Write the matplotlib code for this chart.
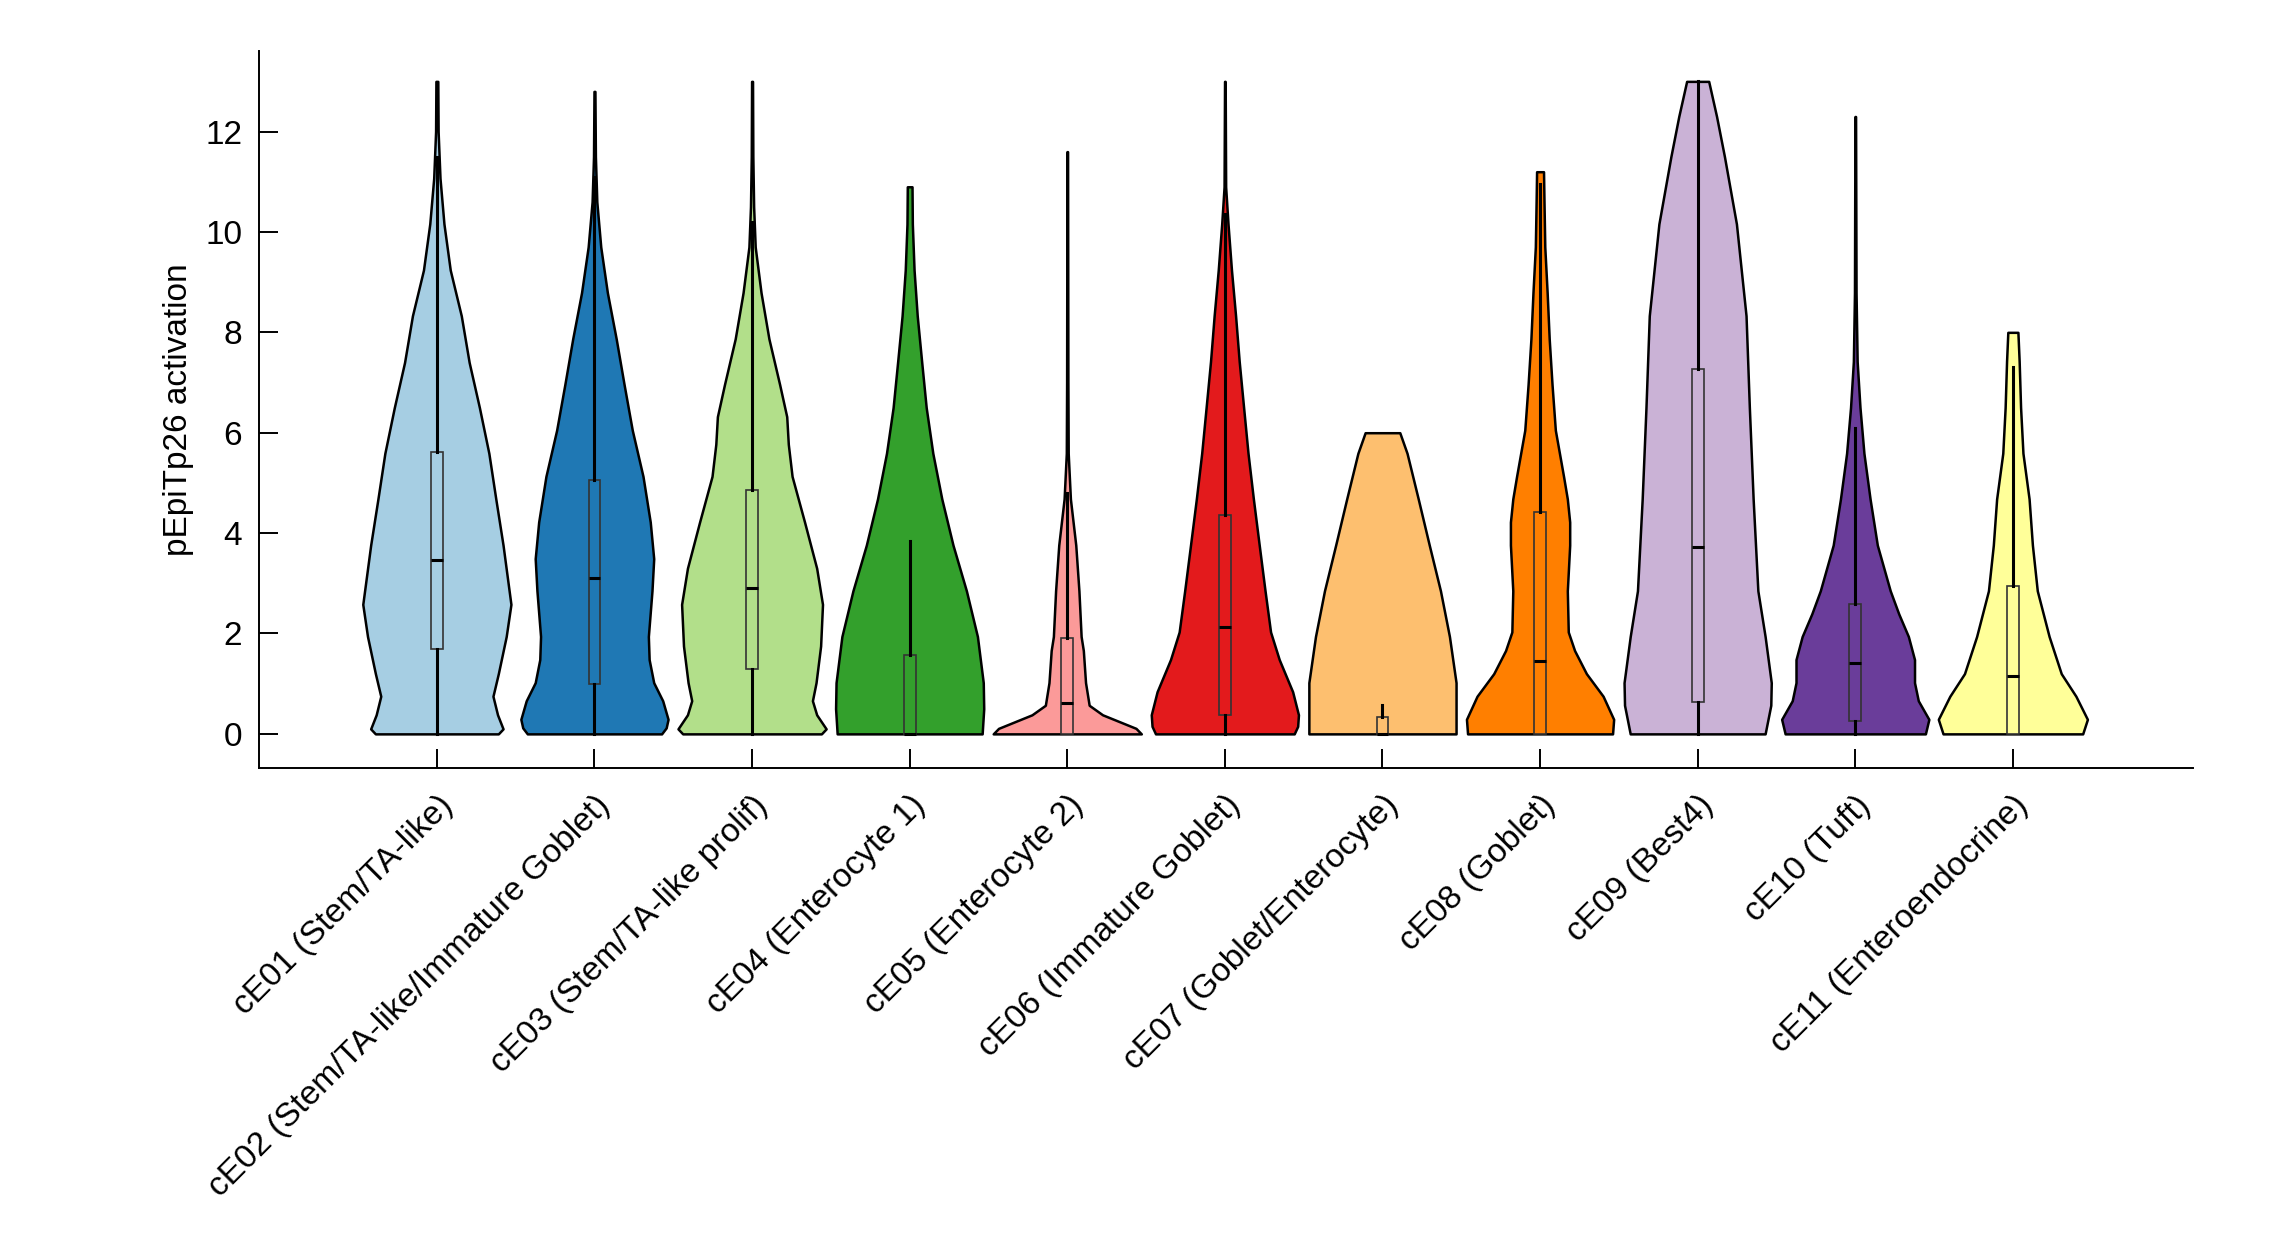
import matplotlib
matplotlib.use("Agg")
import matplotlib.pyplot as plt
import numpy as np

plt.rcParams['font.family'] = ['Liberation Sans', 'DejaVu Sans']

# categories
labels = ['cE01 (Stem/TA-like)', 'cE02 (Stem/TA-like/Immature Goblet)',
          'cE03 (Stem/TA-like prolif)', 'cE04 (Enterocyte 1)', 'cE05 (Enterocyte 2)',
          'cE06 (Immature Goblet)', 'cE07 (Goblet/Enterocyte)', 'cE08 (Goblet)',
          'cE09 (Best4)', 'cE10 (Tuft)', 'cE11 (Enteroendocrine)']

colors = ['#a6cee3', '#1f78b4', '#b2df8a', '#33a02c', '#fb9a99', '#e31a1c',
          '#fdbf6f', '#ff7f00', '#cab2d6', '#6a3d9a', '#ffff99']

# violin outlines: activation levels and half widths
violin_levels = [
    [0, 0.1, 0.38, 0.75, 1.2, 1.94, 2.58, 3.76, 4.68, 5.59, 6.5, 7.4, 8.33, 9.24, 10.16, 11.07, 12.0, 13.0],
    [0, 0.12, 0.29, 0.66, 1.02, 1.48, 1.94, 2.85, 3.49, 4.22, 5.13, 6.05, 6.96, 7.87, 8.79, 9.7, 10.6, 11.5, 12.8],
    [0, 0.1, 0.38, 0.66, 1.02, 1.75, 2.58, 3.3, 4.22, 5.13, 5.77, 6.32, 6.96, 7.87, 8.79, 9.7, 10.5, 11.5, 13.0],
    [0, 0.5, 1.02, 1.94, 2.85, 3.76, 4.68, 5.59, 6.5, 7.42, 8.33, 9.24, 10.16, 10.9],
    [0, 0.11, 0.38, 0.57, 1.02, 1.66, 1.94, 2.85, 3.76, 4.68, 5.59, 7.0, 11.6],
    [0, 0.15, 0.38, 0.84, 1.48, 2.03, 2.85, 3.76, 4.68, 5.59, 6.5, 7.42, 8.33, 9.24, 10.16, 10.9, 13.0],
    [0, 0.5, 1.02, 1.94, 2.85, 3.76, 4.68, 5.59, 6.0],
    [0, 0.29, 0.75, 1.2, 1.66, 2.03, 2.85, 3.76, 4.22, 4.68, 5.13, 6.05, 6.96, 7.87, 8.79, 9.7, 10.6, 11.2],
    [0, 0.57, 1.02, 1.94, 2.85, 4.68, 6.5, 8.33, 10.16, 11.5, 12.3, 13.0],
    [0, 0.29, 0.66, 1.02, 1.48, 1.94, 2.39, 2.85, 3.76, 4.68, 5.59, 6.5, 7.42, 8.79, 12.3],
    [0, 0.29, 0.75, 1.2, 1.94, 2.85, 3.76, 4.68, 5.59, 6.5, 7.42, 8.0],
]
violin_widths = [
    [0.39, 0.42, 0.385, 0.356, 0.39, 0.44, 0.47, 0.42, 0.374, 0.33, 0.27, 0.205, 0.155, 0.085, 0.045, 0.02, 0.008, 0.006],
    [0.426, 0.455, 0.467, 0.433, 0.376, 0.347, 0.342, 0.365, 0.376, 0.354, 0.308, 0.24, 0.188, 0.138, 0.082, 0.04, 0.015, 0.006, 0.003],
    [0.44, 0.47, 0.41, 0.383, 0.406, 0.435, 0.447, 0.41, 0.333, 0.254, 0.23, 0.22, 0.175, 0.107, 0.057, 0.02, 0.01, 0.005, 0.003],
    [0.46, 0.47, 0.467, 0.43, 0.36, 0.275, 0.204, 0.147, 0.105, 0.076, 0.048, 0.028, 0.017, 0.015],
    [0.47, 0.436, 0.224, 0.139, 0.116, 0.102, 0.088, 0.074, 0.054, 0.02, 0.006, 0.004, 0.002],
    [0.44, 0.462, 0.467, 0.43, 0.345, 0.29, 0.255, 0.218, 0.181, 0.147, 0.119, 0.091, 0.068, 0.042, 0.02, 0.005, 0.002],
    [0.467, 0.467, 0.467, 0.425, 0.368, 0.297, 0.227, 0.156, 0.11],
    [0.46, 0.467, 0.40, 0.294, 0.219, 0.179, 0.173, 0.188, 0.188, 0.173, 0.149, 0.097, 0.076, 0.058, 0.045, 0.03, 0.025, 0.022],
    [0.428, 0.464, 0.467, 0.428, 0.382, 0.352, 0.328, 0.307, 0.246, 0.17, 0.12, 0.07],
    [0.445, 0.467, 0.40, 0.376, 0.376, 0.337, 0.276, 0.222, 0.14, 0.094, 0.055, 0.03, 0.012, 0.005, 0.002],
    [0.443, 0.473, 0.40, 0.307, 0.23, 0.155, 0.124, 0.103, 0.064, 0.049, 0.04, 0.032],
]

# box plot statistics
q1 = [1.70, 1.0, 1.30, 0, 0, 0.37, 0, 0, 0.64, 0.25, 0]
med = [3.46, 3.1, 2.9, 0, 0.62, 2.12, 0, 1.45, 3.72, 1.42, 1.15]
q3 = [5.62, 5.06, 4.86, 1.57, 1.92, 4.36, 0.34, 4.43, 7.26, 2.59, 2.94]
whislo = [0, 0, 0, 0, 0, 0, 0, 0, 0, 0, 0]
whishi = [11.5, 11.1, 10.2, 3.85, 4.8, 10.35, 0.58, 10.96, 13.0, 6.1, 7.3]

positions = np.arange(1, len(labels) + 1)

fig = plt.figure(figsize=(11.46, 6.25), dpi=200)
ax = fig.add_axes([0.1129, 0.386, 0.8437, 0.573])

for i, pos in enumerate(positions):
    y = np.array(violin_levels[i])
    w = np.array(violin_widths[i])
    ax.fill_betweenx(y, pos - w, pos + w, facecolor=colors[i], edgecolor='black',
                     linewidth=0.9, zorder=2)

stats = []
for i in range(len(labels)):
    stats.append({'q1': q1[i], 'med': med[i], 'q3': q3[i],
                  'whislo': whislo[i], 'whishi': whishi[i], 'fliers': []})

bp = ax.bxp(stats, positions=positions, widths=0.075, patch_artist=True,
            showfliers=False, showcaps=False, manage_ticks=False,
            boxprops=dict(edgecolor='#333333', linewidth=0.6),
            whiskerprops=dict(color='black', linewidth=1.1),
            medianprops=dict(color='black', linewidth=1.1))
for patch, c in zip(bp['boxes'], colors):
    patch.set_facecolor(c)
    patch.set_zorder(3)
for key in ['whiskers', 'medians']:
    for ln in bp[key]:
        ln.set_zorder(4)

ax.set_xlim(-0.13, 12.14)
ax.set_ylim(-0.67, 13.6)
ax.set_yticks([0, 2, 4, 6, 8, 10, 12])
ax.set_xticks(positions)
ax.set_xticklabels(labels, rotation=45, ha='right', va='top', rotation_mode='anchor')
ax.tick_params(direction='in', length=7, width=0.7, labelsize=12, pad=6)
ax.tick_params(axis='x', pad=8)
ax.set_ylabel('pEpiTp26 activation', fontsize=12, labelpad=4)

for side in ['top', 'right']:
    ax.spines[side].set_visible(False)
for side in ['left', 'bottom']:
    ax.spines[side].set_linewidth(0.7)

fig.savefig('out.png', dpi=200)
